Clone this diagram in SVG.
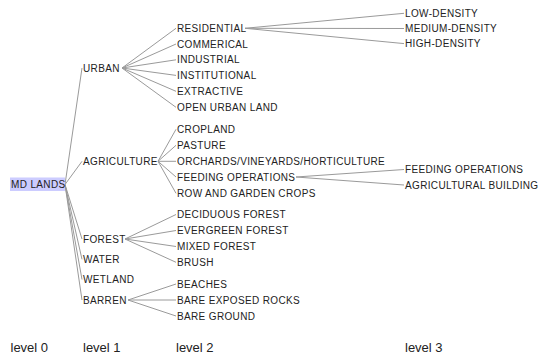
<svg xmlns="http://www.w3.org/2000/svg" width="539" height="356" viewBox="0 0 539 356">
  <style>
    .node text { font-family: "Liberation Sans", Arial, sans-serif; font-size: 10px; fill: #222; letter-spacing: 0.35px; }
    .level { font-family: "Liberation Sans", Arial, sans-serif; font-size: 13px; fill: #222; }
    #links line { stroke: #9a9a9a; stroke-width: 1; fill: none; }
    .hl { fill: #ccccff; }
  </style>
  <rect width="539" height="356" fill="#ffffff"/>

  <!-- connectors -->
  <g id="links">
    <!-- root to level 1 -->
    <line x1="65" y1="184.5" x2="82" y2="68"/>
    <line x1="65" y1="184.5" x2="82" y2="161.3"/>
    <line x1="65" y1="184.5" x2="82" y2="239"/>
    <line x1="65" y1="184.5" x2="82" y2="259.3"/>
    <line x1="65" y1="184.5" x2="82" y2="279.5"/>
    <line x1="65" y1="184.5" x2="82" y2="300"/>
    <!-- URBAN -->
    <line x1="122" y1="68" x2="176" y2="28.3"/>
    <line x1="122" y1="68" x2="176" y2="44"/>
    <line x1="122" y1="68" x2="176" y2="59.8"/>
    <line x1="122" y1="68" x2="176" y2="75.4"/>
    <line x1="122" y1="68" x2="176" y2="91.3"/>
    <line x1="122" y1="68" x2="176" y2="107.3"/>
    <!-- AGRICULTURE -->
    <line x1="158" y1="161.3" x2="176" y2="129.3"/>
    <line x1="158" y1="161.3" x2="176" y2="145.3"/>
    <line x1="158" y1="161.3" x2="176" y2="161.3"/>
    <line x1="158" y1="161.3" x2="176" y2="177"/>
    <line x1="158" y1="161.3" x2="176" y2="193.3"/>
    <!-- FOREST -->
    <line x1="125" y1="239" x2="176" y2="214.5"/>
    <line x1="125" y1="239" x2="176" y2="230.5"/>
    <line x1="125" y1="239" x2="176" y2="246.5"/>
    <line x1="125" y1="239" x2="176" y2="262.3"/>
    <!-- BARREN -->
    <line x1="128" y1="300" x2="176" y2="284"/>
    <line x1="128" y1="300" x2="176" y2="300"/>
    <line x1="128" y1="300" x2="176" y2="316"/>
    <!-- RESIDENTIAL -->
    <line x1="245" y1="28.3" x2="404" y2="13.3"/>
    <line x1="245" y1="28.3" x2="404" y2="28.5"/>
    <line x1="245" y1="28.3" x2="404" y2="43.6"/>
    <!-- FEEDING OPERATIONS -->
    <line x1="296" y1="177" x2="404" y2="169.5"/>
    <line x1="296" y1="177" x2="404" y2="185"/>
  </g>

  <!-- level 0 -->
  <g id="n-md-lands" class="node">
    <rect class="hl" x="10" y="177.5" width="55" height="13.5"/>
    <text x="11" y="188">MD LANDS</text>
  </g>

  <!-- level 1 -->
  <g id="n-urban" class="node"><text x="83" y="71.6">URBAN</text></g>
  <g id="n-agriculture" class="node"><text x="83" y="165">AGRICULTURE</text></g>
  <g id="n-forest" class="node"><text x="83" y="242.6">FOREST</text></g>
  <g id="n-water" class="node"><text x="83" y="263">WATER</text></g>
  <g id="n-wetland" class="node"><text x="83" y="283">WETLAND</text></g>
  <g id="n-barren" class="node"><text x="83" y="303.6">BARREN</text></g>

  <!-- level 2 -->
  <g id="n-residential" class="node"><text x="177" y="32">RESIDENTIAL</text></g>
  <g id="n-commerical" class="node"><text x="177" y="47.6">COMMERICAL</text></g>
  <g id="n-industrial" class="node"><text x="177" y="63.4">INDUSTRIAL</text></g>
  <g id="n-institutional" class="node"><text x="177" y="79">INSTITUTIONAL</text></g>
  <g id="n-extractive" class="node"><text x="177" y="95">EXTRACTIVE</text></g>
  <g id="n-open-urban-land" class="node"><text x="177" y="111">OPEN URBAN LAND</text></g>
  <g id="n-cropland" class="node"><text x="177" y="133">CROPLAND</text></g>
  <g id="n-pasture" class="node"><text x="177" y="149">PASTURE</text></g>
  <g id="n-orchards" class="node"><text x="177" y="165">ORCHARDS/VINEYARDS/HORTICULTURE</text></g>
  <g id="n-feeding-operations" class="node"><text x="177" y="180.6">FEEDING OPERATIONS</text></g>
  <g id="n-row-garden-crops" class="node"><text x="177" y="197">ROW AND GARDEN CROPS</text></g>
  <g id="n-deciduous-forest" class="node"><text x="177" y="218">DECIDUOUS FOREST</text></g>
  <g id="n-evergreen-forest" class="node"><text x="177" y="234">EVERGREEN FOREST</text></g>
  <g id="n-mixed-forest" class="node"><text x="177" y="250">MIXED FOREST</text></g>
  <g id="n-brush" class="node"><text x="177" y="266">BRUSH</text></g>
  <g id="n-beaches" class="node"><text x="177" y="287.6">BEACHES</text></g>
  <g id="n-bare-exposed-rocks" class="node"><text x="177" y="303.6">BARE EXPOSED ROCKS</text></g>
  <g id="n-bare-ground" class="node"><text x="177" y="319.6">BARE GROUND</text></g>

  <!-- level 3 -->
  <g id="n-low-density" class="node"><text x="405" y="17">LOW-DENSITY</text></g>
  <g id="n-medium-density" class="node"><text x="405" y="32">MEDIUM-DENSITY</text></g>
  <g id="n-high-density" class="node"><text x="405" y="47.3">HIGH-DENSITY</text></g>
  <g id="n-feeding-operations-3" class="node"><text x="405" y="173">FEEDING OPERATIONS</text></g>
  <g id="n-agricultural-building" class="node"><text x="405" y="188.6">AGRICULTURAL BUILDING</text></g>

  <!-- level captions -->
  <g id="level-captions">
    <text class="level" x="10.5" y="352">level 0</text>
    <text class="level" x="83" y="352">level 1</text>
    <text class="level" x="176" y="352">level 2</text>
    <text class="level" x="405" y="352">level 3</text>
  </g>
</svg>
